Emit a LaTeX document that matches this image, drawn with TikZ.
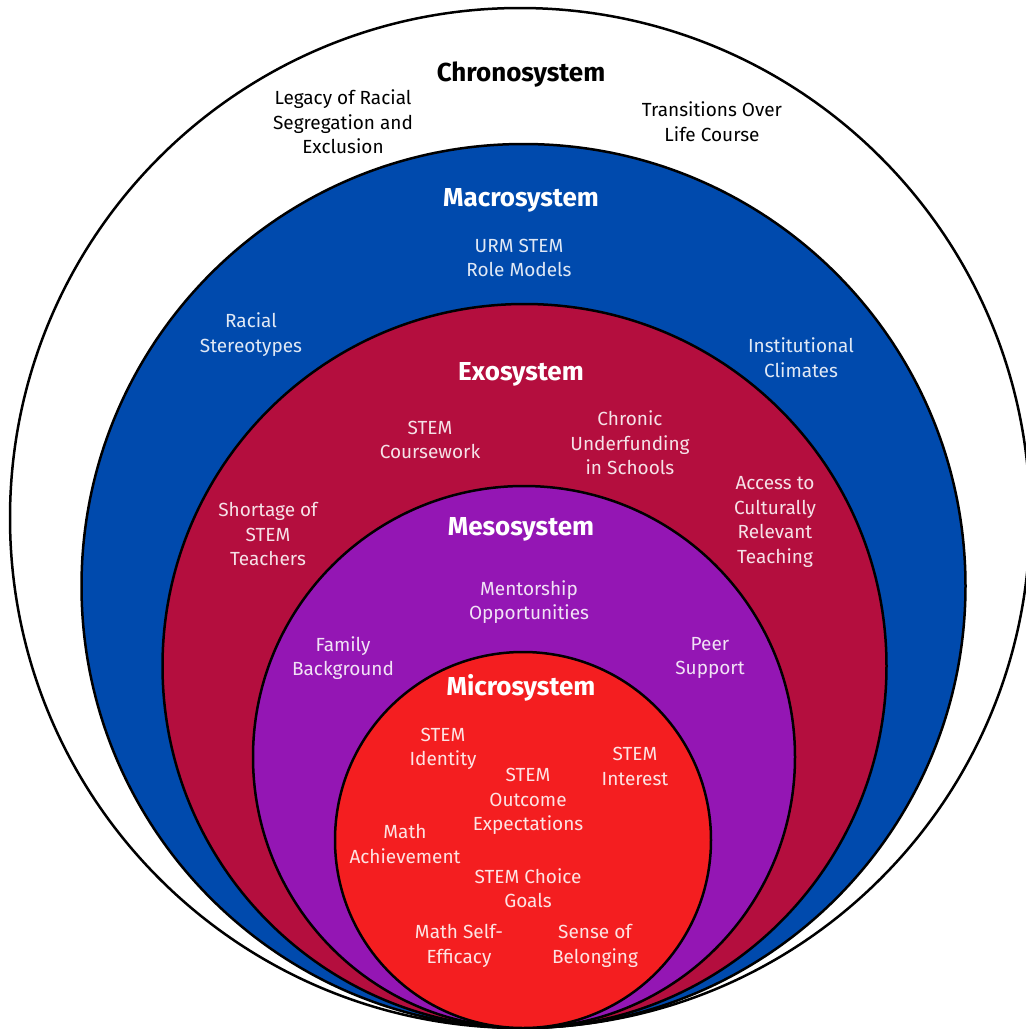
\documentclass[tikz,border=0pt]{standalone}
\usepackage{fontspec}
\setmainfont{Fira Sans}
\definecolor{macroblue}{RGB}{0,74,173}
\definecolor{exocrimson}{RGB}{180,14,62}
\definecolor{mesopurple}{RGB}{148,22,180}
\definecolor{microred}{RGB}{244,30,32}
\begin{document}
\begin{tikzpicture}[x=1pt,y=-1pt,
  ring/.style={draw=black,line width=2.5pt},
  lbl/.style={align=center,font=\fontsize{19}{24.5}\selectfont,text=white,text opacity=0.88,inner sep=0pt},
  dark/.style={lbl,text=black,text opacity=1},
  ttl/.style={font=\fontsize{26}{30}\selectfont\bfseries,text=white,inner sep=0pt},
]
\useasboundingbox (0,0) rectangle (1026,1029);
\clip (0,0) rectangle (1026,1029);
\fill[white] (0,0) rectangle (1026,1029);
% rings
\path[ring,fill=white] (520,518) circle [radius=510pt];
\path[ring,fill=macroblue] (523.5,586) circle [radius=442pt];
\path[ring,fill=exocrimson] (524.5,666) circle [radius=362pt];
\path[ring,fill=mesopurple] (524,757) circle [radius=271pt];
\path[ring,fill=microred] (523,840) circle [radius=188pt];
% chronosystem
\node[ttl,text=black] (chrono) at (521,75) {Chronosystem};
\node[dark] (legacy) at (343,122) {Legacy of Racial\\Segregation and\\Exclusion};
\node[dark] (transit) at (712,121.5) {Transitions Over\\Life Course};
% macrosystem
\node[ttl] (macro) at (521,200) {Macrosystem};
\node[lbl] (urm) at (519,258) {URM STEM\\Role Models};
\node[lbl] (stereo) at (251,334.5) {Racial\\Stereotypes};
\node[lbl] (climate) at (801,357.5) {Institutional\\Climates};
% exosystem
\node[ttl] (exo) at (521,374) {Exosystem};
\node[lbl] (course) at (430,440) {STEM\\Coursework};
\node[lbl] (chronic) at (630,443) {Chronic\\Underfunding\\in Schools};
\node[lbl] (shortage) at (268,534) {Shortage of\\STEM\\Teachers};
\node[lbl] (access) at (775,522) {Access to\\Culturally\\Relevant\\Teaching};
% mesosystem
\node[ttl] (meso) at (521,529) {Mesosystem};
\node[lbl] (mentor) at (529,602) {Mentorship\\Opportunities};
\node[lbl] (family) at (343,658) {Family\\Background};
\node[lbl] (peer) at (710,658) {Peer\\Support};
% microsystem
\node[ttl] (micro) at (521,688) {Microsystem};
\node[lbl] (identity) at (443,749) {STEM\\Identity};
\node[lbl] (interest) at (635,766.5) {STEM\\Interest};
\node[lbl] (outcome) at (528,801.5) {STEM\\Outcome\\Expectations};
\node[lbl] (achieve) at (405,844) {Math\\Achievement};
\node[lbl] (choice) at (528,888) {STEM Choice\\Goals};
\node[lbl] (efficacy) at (459,946) {Math Self-\\Efficacy};
\node[lbl] (belong) at (595,946) {Sense of\\Belonging};
\end{tikzpicture}
\end{document}
